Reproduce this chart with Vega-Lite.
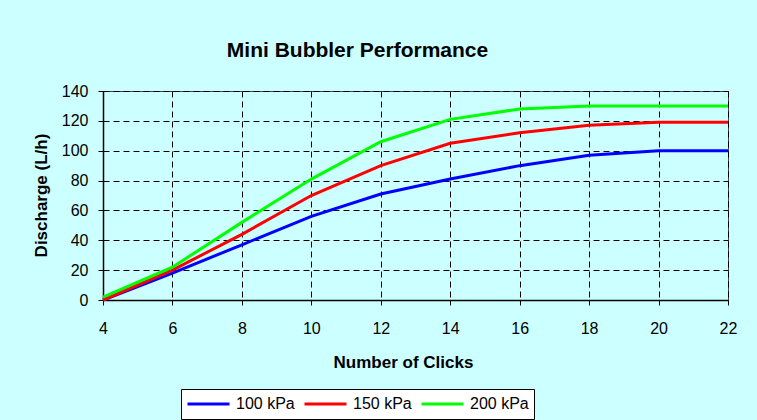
{
  "$schema": "https://vega.github.io/schema/vega-lite/v6.json",
  "width": 625,
  "height": 209,
  "autosize": {"type": "none"},
  "padding": {"left": 103, "top": 91, "right": 29, "bottom": 120},
  "background": "#CCFFFF",
  "title": {
    "text": "Mini Bubbler Performance",
    "anchor": "middle",
    "dx": -58,
    "offset": 22,
    "font": "Liberation Sans",
    "fontSize": 21,
    "fontWeight": "bold",
    "color": "black"
  },
  "config": {
    "view": {"stroke": "#444444", "strokeWidth": 1},
    "font": "Liberation Sans"
  },
  "data": {
    "values": [
      {"clicks": 4, "series": "100 kPa", "discharge": 0},
      {"clicks": 6, "series": "100 kPa", "discharge": 18},
      {"clicks": 8, "series": "100 kPa", "discharge": 37},
      {"clicks": 10, "series": "100 kPa", "discharge": 56},
      {"clicks": 12, "series": "100 kPa", "discharge": 71},
      {"clicks": 14, "series": "100 kPa", "discharge": 81},
      {"clicks": 16, "series": "100 kPa", "discharge": 90},
      {"clicks": 18, "series": "100 kPa", "discharge": 97},
      {"clicks": 20, "series": "100 kPa", "discharge": 100},
      {"clicks": 22, "series": "100 kPa", "discharge": 100},
      {"clicks": 4, "series": "150 kPa", "discharge": 0},
      {"clicks": 6, "series": "150 kPa", "discharge": 20},
      {"clicks": 8, "series": "150 kPa", "discharge": 44},
      {"clicks": 10, "series": "150 kPa", "discharge": 70},
      {"clicks": 12, "series": "150 kPa", "discharge": 90},
      {"clicks": 14, "series": "150 kPa", "discharge": 105},
      {"clicks": 16, "series": "150 kPa", "discharge": 112},
      {"clicks": 18, "series": "150 kPa", "discharge": 117},
      {"clicks": 20, "series": "150 kPa", "discharge": 119},
      {"clicks": 22, "series": "150 kPa", "discharge": 119},
      {"clicks": 4, "series": "200 kPa", "discharge": 2},
      {"clicks": 6, "series": "200 kPa", "discharge": 22},
      {"clicks": 8, "series": "200 kPa", "discharge": 52},
      {"clicks": 10, "series": "200 kPa", "discharge": 81},
      {"clicks": 12, "series": "200 kPa", "discharge": 106},
      {"clicks": 14, "series": "200 kPa", "discharge": 121},
      {"clicks": 16, "series": "200 kPa", "discharge": 128},
      {"clicks": 18, "series": "200 kPa", "discharge": 130},
      {"clicks": 20, "series": "200 kPa", "discharge": 130},
      {"clicks": 22, "series": "200 kPa", "discharge": 130}
    ]
  },
  "mark": {"type": "line", "strokeWidth": 3},
  "encoding": {
    "x": {
      "field": "clicks",
      "type": "quantitative",
      "scale": {"domain": [4, 22], "nice": false},
      "axis": {
        "values": [4, 6, 8, 10, 12, 14, 16, 18, 20, 22],
        "title": "Number of Clicks",
        "titleFontSize": 17,
        "titleFontWeight": "bold",
        "titleColor": "black",
        "titleX": 300,
        "titleY": 62,
        "titleBaseline": "middle",
        "labelFontSize": 16,
        "labelColor": "black",
        "labelPadding": 15,
        "labelFlush": false,
        "domainColor": "black",
        "domainWidth": 1.5,
        "tickColor": "black",
        "tickSize": 5,
        "grid": true,
        "gridColor": "black",
        "gridDash": [6, 4],
        "gridWidth": 1,
        "gridOpacity": 1
      }
    },
    "y": {
      "field": "discharge",
      "type": "quantitative",
      "scale": {"domain": [0, 140], "nice": false},
      "axis": {
        "values": [0, 20, 40, 60, 80, 100, 120, 140],
        "title": "Discharge (L/h)",
        "titleFontSize": 17,
        "titleFontWeight": "bold",
        "titleColor": "black",
        "titleX": -62,
        "titleY": 104,
        "titleBaseline": "middle",
        "titleAngle": -90,
        "labelFontSize": 16,
        "labelColor": "black",
        "labelPadding": 10,
        "labelFlush": false,
        "domainColor": "black",
        "domainWidth": 1.5,
        "tickColor": "black",
        "tickSize": 5,
        "grid": true,
        "gridColor": "black",
        "gridDash": [6, 4],
        "gridWidth": 1,
        "gridOpacity": 1
      }
    },
    "color": {
      "field": "series",
      "type": "nominal",
      "scale": {"domain": ["100 kPa", "150 kPa", "200 kPa"], "range": ["#0000FF", "#FF0000", "#00FF00"]},
      "legend": {
        "title": null,
        "orient": "none",
        "direction": "horizontal",
        "legendX": 78,
        "legendY": 298,
        "symbolType": "stroke",
        "symbolSize": 1764,
        "symbolStrokeWidth": 3,
        "clipHeight": 20,
        "labelFontSize": 16,
        "labelColor": "black",
        "labelOffset": 5,
        "columnPadding": 8,
        "padding": 5,
        "strokeColor": "black",
        "fillColor": "white",
        "cornerRadius": 0
      }
    }
  }
}
